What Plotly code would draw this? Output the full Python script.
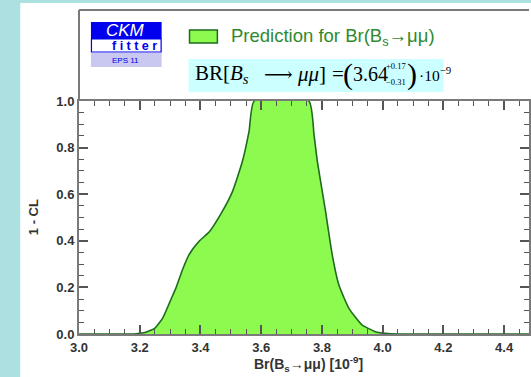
import plotly.graph_objects as go

# Data
br_values = [3.0, 3.18, 3.2, 3.22, 3.25, 3.276, 3.3, 3.32, 3.342, 3.362, 3.397, 3.43,
             3.472, 3.505, 3.538, 3.56, 3.577, 3.757, 3.774, 3.785, 3.812, 3.834,
             3.856, 3.889, 3.932, 3.976, 4.009, 4.05, 4.482]
one_minus_cl = [0.0, 0.0, 0.003, 0.008, 0.025, 0.069, 0.14, 0.2, 0.28, 0.34, 0.40, 0.44,
                0.526, 0.61, 0.74, 0.87, 1.0, 1.0, 0.855, 0.74, 0.526, 0.34,
                0.21, 0.11, 0.039, 0.01, 0.003, 0.0, 0.0]
x_ticks = [3.0, 3.2, 3.4, 3.6, 3.8, 4.0, 4.2, 4.4]
y_ticks = [0.0, 0.2, 0.4, 0.6, 0.8, 1.0]

W, H = 531, 377
L, R, T, B = 79, 0, 101, 43
PW, PH = W - L - R, H - T - B


def px(x):
    return (x - L) / PW


def py(y):
    return (H - B - y) / PH


fig = go.Figure()
fig.add_trace(go.Scatter(
    x=br_values, y=one_minus_cl, mode="lines", fill="tozeroy",
    line=dict(color="#1f6b1f", width=1.6, shape="spline", smoothing=0.5),
    fillcolor="#8cfa4e", showlegend=False, hoverinfo="skip"))

axis_common = dict(
    showline=True, linecolor="#7a7a7a", linewidth=2, mirror="ticks",
    ticks="inside", ticklen=9, tickwidth=1.6, tickcolor="#555555",
    minor=dict(ticks="inside", ticklen=5, tickwidth=1.4, tickcolor="#555555", dtick=0.05),
    showgrid=False, zeroline=False,
    tickfont=dict(family="Liberation Sans, Arial", size=13, color="#333333", weight="bold"),
    tickformat=".1f",
)
fig.update_xaxes(range=[3.0, 3.0 + PW / 305.0], tickvals=x_ticks, **axis_common)
fig.update_yaxes(range=[0, 1.0], tickvals=y_ticks, **axis_common)

shapes = []
bg = "#ade0e0"
# cyan strips of the slide background
shapes.append(dict(type="rect", xref="paper", yref="paper", x0=px(-2), x1=px(20), y0=py(H + 2), y1=py(-2),
                   fillcolor=bg, line=dict(width=0), layer="below"))
shapes.append(dict(type="rect", xref="paper", yref="paper", x0=px(-2), x1=px(W + 2), y0=py(3), y1=py(-2),
                   fillcolor=bg, line=dict(width=0), layer="below"))
# outer frame above plot
shapes.append(dict(type="line", xref="paper", yref="paper", x0=0, x1=0, y0=1, y1=py(10),
                   line=dict(color="#7a7a7a", width=2)))
shapes.append(dict(type="line", xref="paper", yref="paper", x0=0, x1=1, y0=py(10), y1=py(10),
                   line=dict(color="#7a7a7a", width=2)))
# legend swatch
shapes.append(dict(type="rect", xref="paper", yref="paper", x0=px(190), x1=px(218), y0=py(43), y1=py(30),
                   fillcolor="#8cfa4e", line=dict(color="#1f6b1f", width=1.5)))
# formula box
shapes.append(dict(type="rect", xref="paper", yref="paper", x0=px(189), x1=px(445), y0=py(92), y1=py(59),
                   fillcolor="#ccffff", line=dict(width=0)))
# CKM logo
shapes.append(dict(type="rect", xref="paper", yref="paper", x0=px(91), x1=px(162), y0=py(39), y1=py(22),
                   fillcolor="#0000ee", line=dict(width=0)))
shapes.append(dict(type="rect", xref="paper", yref="paper", x0=px(91.5), x1=px(161.5), y0=py(52), y1=py(39),
                   fillcolor="white", line=dict(color="#0000ee", width=1.2)))
shapes.append(dict(type="rect", xref="paper", yref="paper", x0=px(91), x1=px(162), y0=py(67), y1=py(53),
                   fillcolor="#c8c8f0", line=dict(width=0)))

ann = []


def text(x, y, s, size, color="#000", family="Liberation Sans, Arial", xanchor="center", yanchor="middle",
         angle=0, weight="normal", style="normal"):
    ann.append(dict(x=px(x), y=py(y), xref="paper", yref="paper", text=s, showarrow=False,
                    xanchor=xanchor, yanchor=yanchor, textangle=angle,
                    font=dict(family=family, size=size, color=color, weight=weight, style=style)))


text(126, 31, "CKM", 17, "white", style="italic")
text(159, 46, "f i t t e r", 12.5, "#0000ee", xanchor="right", weight="bold")
text(126, 60, "EPS 11", 8, "#0000ee")
text(230, 37, "Prediction for Br(B<sub>s</sub>→μμ)", 18.5, "#2f8a2f", xanchor="left")

serif = "Liberation Serif, Times New Roman"
text(194, 74, "BR[<i>B<sub>s</sub></i>", 21, family=serif, xanchor="left")
text(279, 74, "⟶", 20, family="DejaVu Serif", xanchor="center")
text(296, 74, "<i>μμ</i>]", 21, family=serif, xanchor="left")
text(331, 74, "=", 21, family=serif, xanchor="left")
text(342, 74, "(", 30, family=serif, xanchor="left")
text(352, 74, "3.64", 20, family=serif, xanchor="left")
text(385, 66, "+0.17", 8.5, family=serif, xanchor="left")
text(385, 82, "−0.31", 8.5, family=serif, xanchor="left")
text(406, 74, ")", 30, family=serif, xanchor="left")
text(418, 74, "·10<sup>−9</sup>", 15.5, family=serif, xanchor="left")

text(33, 217, "1 - CL", 13, "#333333", angle=-90, weight="bold")
text(310, 364, "Br(B<sub>s</sub>→μμ) [10<sup>-9</sup>]", 14, "#333333", weight="bold")

fig.update_layout(
    width=W, height=H, margin=dict(l=L, r=R, t=T, b=B, pad=0),
    paper_bgcolor="white", plot_bgcolor="white",
    shapes=shapes, annotations=ann, showlegend=False,
)
fig.write_html("out.html", config={"displayModeBar": False},
               post_script="document.body.style.margin='0px';document.body.style.overflow='hidden';")
